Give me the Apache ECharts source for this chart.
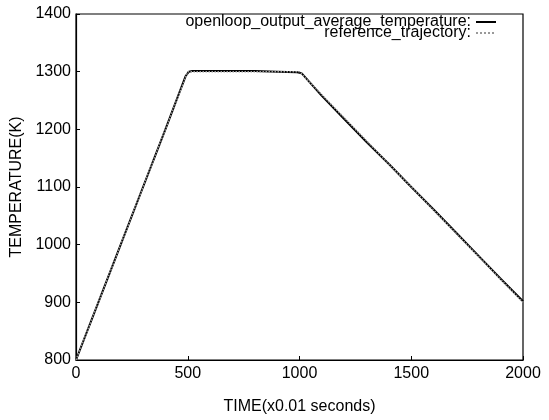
<!DOCTYPE html>
<html>
<head>
<meta charset="utf-8">
<script src="https://cdn.jsdelivr.net/npm/echarts@6/dist/echarts.min.js"></script>
<style>html,body{margin:0;padding:0;background:#fff;}#c{width:549px;height:420px;}</style>
</head>
<body>
<div id="c"></div>
<script>
var seriesNames = ['openloop_output_average_temperature:', 'reference_trajectory:'];
var timeOutput = [0, 100, 200, 300, 400, 490, 505, 520, 600, 700, 800, 900, 990, 1010, 1100, 1200, 1300, 1400, 1500, 1600, 1700, 1800, 1900, 2000];
var tempOutput = [800, 900, 1000, 1100, 1200, 1292, 1300, 1301, 1301, 1301, 1301, 1300, 1299, 1297, 1258, 1218, 1178, 1140, 1100, 1061, 1021, 981, 941, 902];
var timeRef = [0, 500, 1000, 2000];
var tempRef = [800, 1300, 1300, 900];
var xTicks = [0, 500, 1000, 1500, 2000];
var yTicks = [800, 900, 1000, 1100, 1200, 1300, 1400];

function pairs(xs, ys) { return xs.map(function (x, i) { return [x, ys[i]]; }); }

var font = '"Liberation Sans", Arial, sans-serif';
var legendCommon = {right: 52, orient: 'vertical', align: 'right', itemWidth: 20, itemHeight: 10,
  itemStyle: {opacity: 0}, textStyle: {fontFamily: font, fontSize: 16, color: '#000'}, padding: 0, selectedMode: false};
var chart = echarts.init(document.getElementById('c'), null, {renderer: 'canvas'});
chart.setOption({
  animation: false,
  backgroundColor: '#fff',
  grid: {left: 76, right: 26, top: 14, bottom: 49, show: true, borderColor: '#000', borderWidth: 1.2},
  legend: [
    Object.assign({data: [seriesNames[0]], top: 14}, legendCommon),
    Object.assign({data: [seriesNames[1]], top: 25}, legendCommon)
  ],
  xAxis: {
    type: 'value', min: xTicks[0], max: xTicks[xTicks.length - 1], interval: 500,
    name: 'TIME(x0.01 seconds)', nameLocation: 'middle', nameGap: 39,
    nameTextStyle: {fontFamily: font, fontSize: 16, color: '#000'},
    axisLine: {lineStyle: {color: '#000', width: 1.2}},
    axisTick: {inside: true, length: 4, lineStyle: {color: '#000'}},
    axisLabel: {fontFamily: font, fontSize: 16, color: '#000', margin: 6, formatter: function (v) { return String(v); }},
    splitLine: {show: false}
  },
  yAxis: {
    type: 'value', min: yTicks[0], max: yTicks[yTicks.length - 1], interval: 100,
    name: 'TEMPERATURE(K)', nameLocation: 'middle', nameGap: 37,
    nameTextStyle: {fontFamily: font, fontSize: 16, color: '#000'},
    axisLine: {lineStyle: {color: '#000', width: 1.2}},
    axisTick: {inside: true, length: 4, lineStyle: {color: '#000'}},
    axisLabel: {fontFamily: font, fontSize: 16, color: '#000', margin: 5, formatter: function (v) { return String(v); }},
    splitLine: {show: false}
  },
  series: [
    {name: seriesNames[0], type: 'line', data: pairs(timeOutput, tempOutput), symbol: 'none',
     lineStyle: {color: '#000', width: 2}, itemStyle: {color: '#000'}, z: 3},
    {name: seriesNames[1], type: 'line', data: pairs(timeRef, tempRef), symbol: 'none',
     lineStyle: {color: '#999', width: 1.5, type: 'dotted'}, itemStyle: {color: '#999'}, z: 4}
  ]
});
</script>
</body>
</html>
